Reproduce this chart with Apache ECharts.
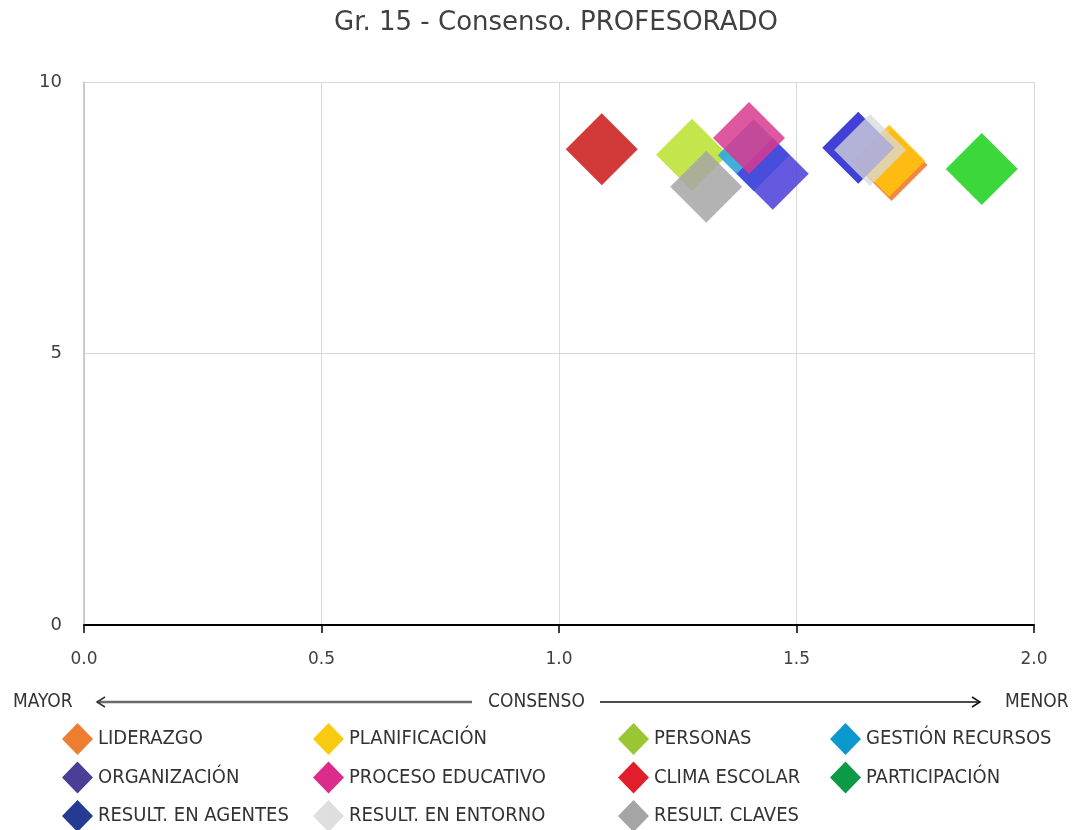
<!DOCTYPE html>
<html><head><meta charset="utf-8">
<script src="https://cdn.jsdelivr.net/npm/echarts@6/dist/echarts.min.js"></script>
<style>html,body{margin:0;padding:0;background:#fff}#c{width:1076px;height:830px}</style>
</head><body><div id="c"></div>
<script>
const chartTitle = 'Gr. 15 - Consenso. PROFESORADO';
const categories = ['LIDERAZGO','PLANIFICACIÓN','PERSONAS','GESTIÓN RECURSOS','ORGANIZACIÓN','PROCESO EDUCATIVO','CLIMA ESCOLAR','PARTICIPACIÓN','RESULT. EN AGENTES','RESULT. EN ENTORNO','RESULT. CLAVES'];
const consensoX = [1.70, 1.695, 1.28, 1.41, 1.45, 1.40, 1.09, 1.89, 1.63, 1.655, 1.31];
const valorY    = [8.47, 8.55, 8.66, 8.65, 8.31, 8.97, 8.76, 8.40, 8.79, 8.75, 8.07];
const axisWords = ['MAYOR', 'CONSENSO', 'MENOR'];

// styles
const plotColors = ['#F27A2A','#FFC20E','#BFE23A','#2AA6D8','#4A3CDA','#D83A8E','#D02E2E','#30D530','#2B2BD2','#DADADA','#A6A6A6'];
const plotOpacity = [0.9,0.9,0.9,0.9,0.85,0.85,0.95,0.95,0.9,0.75,0.85];
const legendColors = ['#ED7D31','#F9CB10','#9BC634','#0B98CE','#4B3E96','#DB2B8B','#E11F2C','#0D9A46','#253B92','#DEDEDE','#A5A5A5'];

const chart = echarts.init(document.getElementById('c'), null, {renderer: 'canvas'});

const series = categories.map((name, i) => ({
  name: name,
  type: 'scatter',
  symbol: 'diamond',
  symbolSize: 72,
  data: [[consensoX[i], valorY[i]]],
  itemStyle: {color: plotColors[i], opacity: plotOpacity[i]},
  emphasis: {disabled: true}
}));

const legendFont = "'Liberation Sans Narrow','DejaVu Sans Condensed',Roboto,sans-serif";
const cols = [[0,4,8],[1,5,9],[2,6,10],[3,7]];
const colLeft = [62, 313, 618, 830];
const legends = cols.map((idx, c) => ({
  type: 'plain',
  orient: 'vertical',
  left: colLeft[c],
  top: 723,
  width: 240,
  height: 130,
  padding: 0,
  itemGap: 6.5,
  itemWidth: 31,
  itemHeight: 32,
  icon: 'diamond',
  selectedMode: false,
  textStyle: {fontFamily: legendFont, fontSize: 20, color: '#333'},
  data: idx.map(i => ({name: categories[i], itemStyle: {color: legendColors[i], opacity: 1}}))
}));

const axisFont = "'DejaVu Sans',Verdana,sans-serif";

chart.setOption({
  backgroundColor: '#fff',
  animation: false,
  title: {
    text: chartTitle,
    left: 334,
    top: 10,
    padding: 0,
    textStyle: {fontFamily: axisFont, fontSize: 26, fontWeight: 'normal', color: '#404040'}
  },
  grid: {left: 84, right: 42, top: 82, bottom: 205, containLabel: false},
  xAxis: {
    type: 'value', min: 0, max: 2, interval: 0.5,
    axisLine: {show: true, onZero: false, lineStyle: {color: '#000', width: 2}},
    axisTick: {show: true, length: 8, lineStyle: {color: '#000', width: 1.5}},
    axisLabel: {margin: 26, fontFamily: axisFont, fontSize: 17, color: '#404040', formatter: v => v.toFixed(1)},
    splitLine: {show: true, lineStyle: {color: '#d9d9d9', width: 1}}
  },
  yAxis: {
    type: 'value', min: 0, max: 10, interval: 5,
    axisLine: {show: true, lineStyle: {color: '#bfbfbf', width: 1.5}},
    axisTick: {show: false},
    axisLabel: {margin: 22, fontFamily: axisFont, fontSize: 18, color: '#404040'},
    splitLine: {show: true, lineStyle: {color: '#d9d9d9', width: 1}}
  },
  legend: legends,
  series: series,
  graphic: [
    {type: 'text', left: 13, top: 693, style: {text: axisWords[0], font: "19px " + legendFont, fill: '#333'}},
    {type: 'text', left: 488, top: 693, style: {text: axisWords[1], font: "19px " + legendFont, fill: '#333'}},
    {type: 'text', left: 1005, top: 693, style: {text: axisWords[2], font: "19px " + legendFont, fill: '#333'}},
    {type: 'line', shape: {x1: 97, y1: 702, x2: 472, y2: 702}, style: {stroke: '#6a6a6a', lineWidth: 2.5}},
    {type: 'polyline', shape: {points: [[105, 697], [97, 702], [105, 707]]}, style: {stroke: '#333', lineWidth: 1.5, fill: null}},
    {type: 'line', shape: {x1: 600, y1: 702, x2: 980, y2: 702}, style: {stroke: '#111', lineWidth: 1.5}},
    {type: 'polyline', shape: {points: [[972, 697], [980, 702], [972, 707]]}, style: {stroke: '#111', lineWidth: 1.5, fill: null}}
  ]
});
</script>
</body></html>
